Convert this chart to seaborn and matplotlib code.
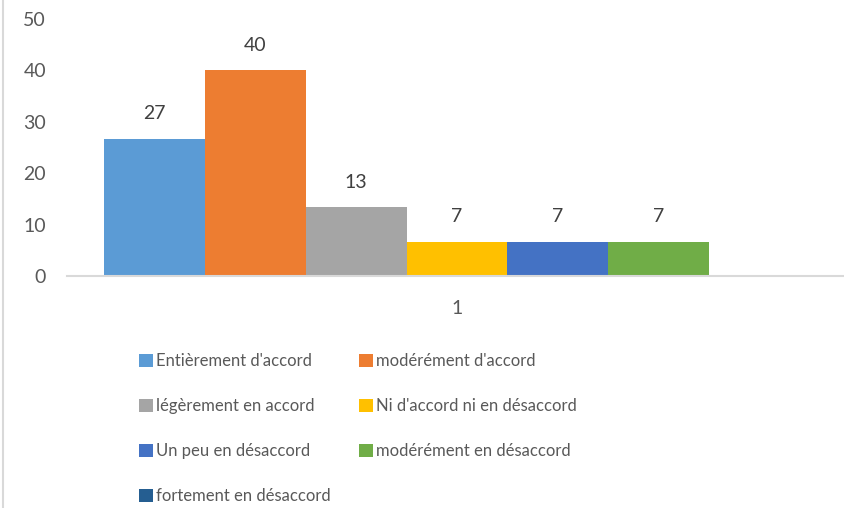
import matplotlib
matplotlib.use("Agg")
import matplotlib.pyplot as plt
import seaborn as sns
import pandas as pd
from matplotlib.lines import Line2D
from matplotlib.patches import Patch

categories = ["1"]
series = ["Entièrement d'accord", "modérément d'accord", "légèrement en accord",
          "Ni d'accord ni en désaccord", "Un peu en désaccord",
          "modérément en désaccord", "fortement en désaccord"]
values = [26.67, 40.0, 13.33, 6.67, 6.67, 6.67, 0.0]
colors = ["#5B9BD5", "#ED7D31", "#A5A5A5", "#FFC000", "#4472C4", "#70AD47", "#255E91"]
yticks = [0, 10, 20, 30, 40, 50]

df = pd.DataFrame({"cat": categories * len(series), "serie": series, "val": values})

sns.set_theme(style="white")
plt.rcParams['font.family'] = ['Lato', 'DejaVu Sans']

W, H = 844, 508
fig = plt.figure(figsize=(W / 100, H / 100), dpi=100)
ax = fig.add_axes([67 / W, 1 - 276 / H, (844 - 67) / W, (276 - 19) / H])

sns.barplot(data=df, x="cat", y="val", hue="serie", hue_order=series,
            palette=colors, width=0.906, saturation=1, ax=ax, legend=False,
            errorbar=None, linewidth=0)

ax.set_xlim(-0.5, 0.5 - 3 / 780)
ax.set_ylim(0, 50)
ax.set_yticks(yticks)
ax.set_yticklabels([str(t) for t in yticks])
ax.set_xlabel("")
ax.set_ylabel("")
for s in ["top", "right", "left"]:
    ax.spines[s].set_visible(False)
ax.spines["bottom"].set_color("#D9D9D9")
ax.spines["bottom"].set_linewidth(1.5)
ax.tick_params(axis="both", length=0, labelsize=14, labelcolor="#595959")
ax.tick_params(axis="y", pad=15)
ax.tick_params(axis="x", pad=17)

for cont, v in zip(ax.containers, values):
    if v > 0:
        ax.bar_label(cont, labels=[f"{v:.0f}"], padding=12, fontsize=14, color="#404040")

order = [0, 2, 4, 6, 1, 3, 5]
handles = [Patch(facecolor=colors[i], edgecolor="none") for i in order]
labels = [series[i] for i in order]
fig.legend(handles, labels, ncol=2, loc="upper left",
           bbox_to_anchor=(124 / W, 1 - 338 / H), frameon=False,
           fontsize=12, labelcolor="#595959", handlelength=0.85, handleheight=0.85,
           handletextpad=0.2, columnspacing=1.65, labelspacing=1.74)

fig.add_artist(Line2D([3 / W, 3 / W], [0, 1], color="#D9D9D9", lw=1.5))

fig.savefig("out.png", dpi=100)
